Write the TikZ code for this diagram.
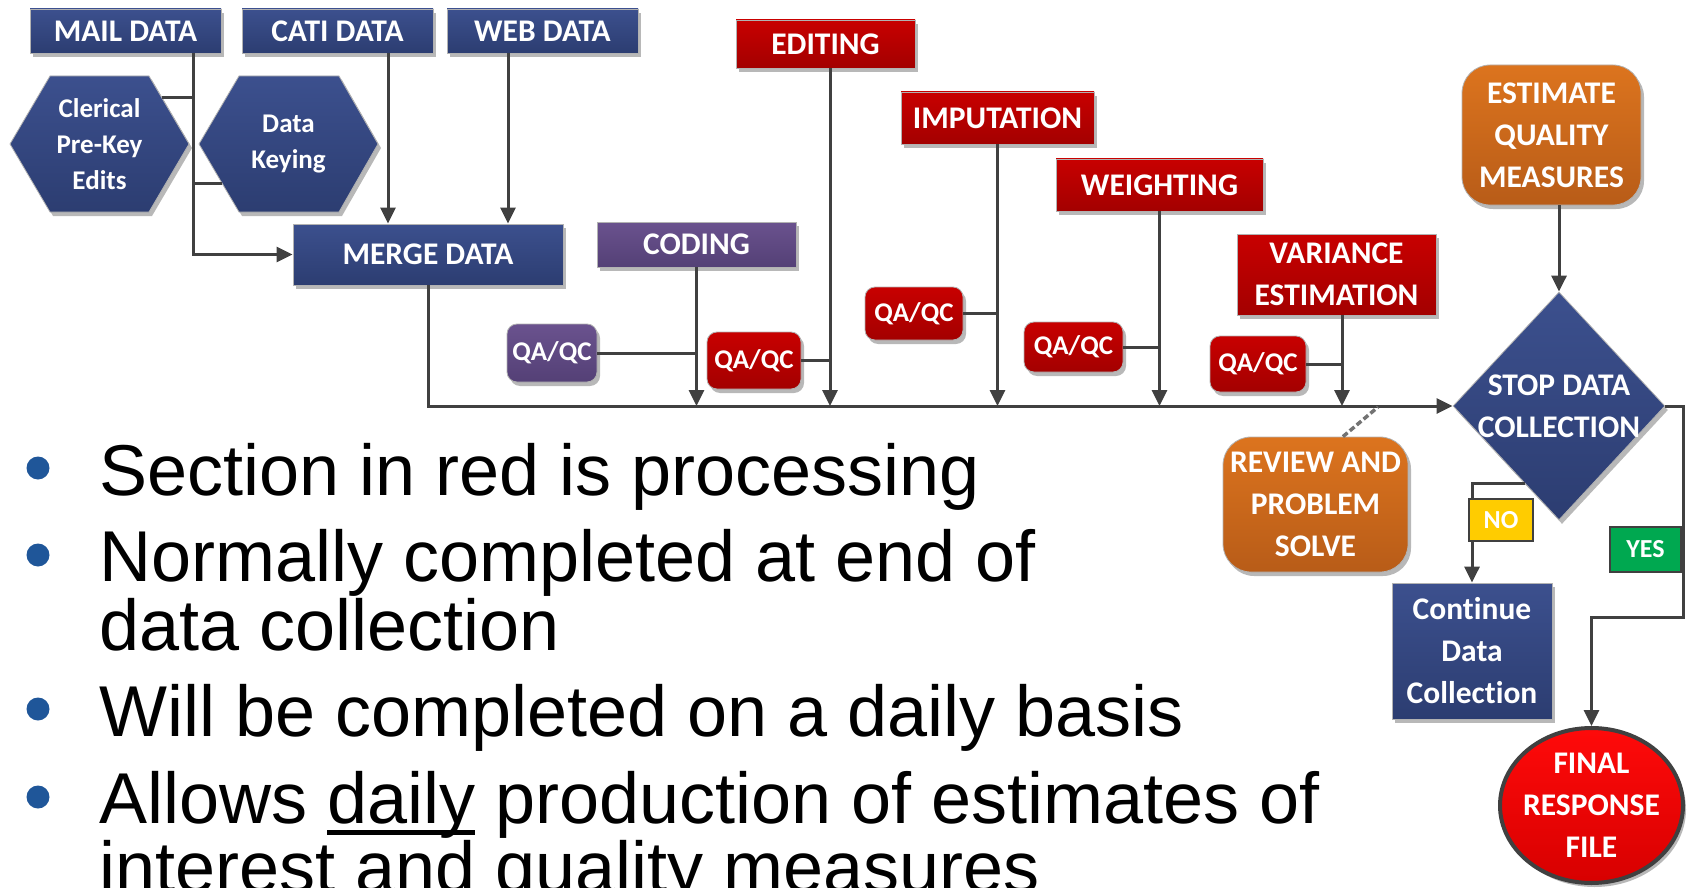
\documentclass[tikz,border=0pt]{standalone}
\usepackage{fontspec}
\setmainfont{Carlito}[Ligatures=NoCommon]
\newfontfamily\bulletfont{Liberation Sans}
\usetikzlibrary{arrows.meta,shapes.geometric,shadows}

\definecolor{navyT}{RGB}{60,80,142}
\definecolor{navyB}{RGB}{44,61,113}
\definecolor{redT}{RGB}{200,0,0}
\definecolor{redB}{RGB}{163,0,0}
\definecolor{purT}{RGB}{106,82,142}
\definecolor{purB}{RGB}{84,64,118}
\definecolor{orT}{RGB}{220,116,30}
\definecolor{orB}{RGB}{184,92,24}
\definecolor{finT}{RGB}{255,10,10}
\definecolor{finB}{RGB}{215,0,0}
\definecolor{wire}{RGB}{64,64,64}
\definecolor{bulletblue}{RGB}{31,86,153}
\definecolor{noY}{RGB}{255,204,0}
\definecolor{yesG}{RGB}{0,168,80}

\newcommand\boxfont{\fontsize{31.5}{42}\selectfont\bfseries}
\newcommand\hexfont{\fontsize{27}{36}\selectfont\bfseries}
\newcommand\qafont{\fontsize{27}{32}\selectfont\bfseries}
\newcommand\answerfont{\fontsize{26}{30}\selectfont\bfseries}
\newcommand\listfont{\bulletfont\fontsize{72}{69}\selectfont}
\newcommand\underrule[1]{\setbox0\hbox{#1}\rlap{\rule[-11.5pt]{\wd0}{5pt}}#1}

\tikzset{
  wire/.style={draw=wire, line width=3pt},
  arr/.style={wire, -{Triangle[length=16pt,width=15pt]}},
  dashlink/.style={draw=black!55, line width=3.5pt, dash pattern=on 6pt off 3pt},
  boxshadow/.style={drop shadow={shadow xshift=3pt,shadow yshift=-4pt,opacity=0.28,fill=black}},
  boxtext/.style={text=white, font=\boxfont, align=center},
  box/.style={rectangle, inner sep=0pt, boxtext, draw=black!30, line width=0.8pt, boxshadow},
  wh/.style 2 args={minimum width=#1pt, minimum height=#2pt},
  navyfill/.style={top color=navyT, bottom color=navyB},
  redfill/.style={top color=redT, bottom color=redB},
  purplefill/.style={top color=purT, bottom color=purB},
  orangefill/.style={top color=orT, bottom color=orB},
  qa/.style={box, rounded corners=10pt, font=\qafont},
  hexlabel/.style={inner sep=0pt, text=white, font=\hexfont, align=center},
  answer/.style={rectangle, inner sep=0pt, text=white, font=\answerfont, draw=wire, line width=1.5pt},
  listline/.style={anchor=base west, inner sep=0pt, font=\listfont},
  bulletdot/.style={circle, fill=bulletblue, minimum size=23pt, inner sep=0pt},
}

\begin{document}
\begin{tikzpicture}[x=1pt,y=-1pt]
\useasboundingbox (0,0) rectangle (1687,888);
\clip (0,0) rectangle (1687,888);

% ---- data sources ----
\node[box,navyfill,wh={191}{44}] (mail) at (125.5,31) {MAIL DATA};
\node[box,navyfill,wh={191}{44}] (cati) at (337.5,31) {CATI DATA};
\node[box,navyfill,wh={191}{44}] (web)  at (542.5,31) {WEB DATA};

\path[navyfill, draw=black!30, line width=0.8pt, boxshadow]
  (10,144) -- (50,76) -- (149,76) -- (189,144) -- (149,212) -- (50,212) -- cycle;
\node[hexlabel] (cler) at (99.5,144) {Clerical\\Pre-Key\\Edits};
\path[navyfill, draw=black!30, line width=0.8pt, boxshadow]
  (199,144) -- (239,76) -- (339,76) -- (378,144) -- (339,212) -- (239,212) -- cycle;
\node[hexlabel] (key) at (288.5,144) {Data\\Keying};

\node[box,navyfill,wh={270}{61}] (merge) at (428,254.5) {MERGE DATA};

% ---- processing steps ----
\node[box,purplefill,wh={199}{45}] (coding) at (696.5,244.5) {CODING};
\node[qa,purplefill,wh={90}{58}] (qa1) at (552,353) {QA/QC};
\node[box,redfill,wh={179}{48}] (edit) at (825.5,44) {EDITING};
\node[qa,redfill,wh={94}{57}] (qa2) at (754,360.5) {QA/QC};
\node[box,redfill,wh={193}{52}] (imput) at (997.5,118) {IMPUTATION};
\node[qa,redfill,wh={98}{53}] (qa3) at (914,313.5) {QA/QC};
\node[box,redfill,wh={207}{52}] (weight) at (1159.5,185) {WEIGHTING};
\node[qa,redfill,wh={99}{50}] (qa4) at (1073.5,347) {QA/QC};
\node[box,redfill,wh={199}{81}] (var) at (1336.5,274.5) {VARIANCE\\ESTIMATION};
\node[qa,redfill,wh={96}{56}] (qa5) at (1258,364) {QA/QC};

% ---- decision part ----
\node[box,orangefill,rounded corners=28pt,wh={179}{140}] (eqm) at (1551.5,135) {ESTIMATE\\QUALITY\\MEASURES};
\node[diamond,navyfill,draw=black!30,line width=0.8pt,boxshadow,inner sep=0pt,wh={212}{228},
      label={[boxtext]center:{STOP DATA\\COLLECTION}}] (stop) at (1559,406) {};
\node[box,orangefill,rounded corners=28pt,wh={185}{135}] (review) at (1315.5,504.5) {REVIEW AND\\PROBLEM\\SOLVE};
\node[box,navyfill,wh={160}{136}] (cont) at (1472,651) {Continue\\Data\\Collection};
\node[ellipse,top color=finT,bottom color=finB,draw=wire,line width=4pt,boxshadow,inner sep=0pt,wh={183}{155},
      label={[boxtext]center:{FINAL\\RESPONSE\\FILE}}] (final) at (1591.5,805.5) {};

% ---- connectors ----
\coordinate (xmail) at (193,0);
\coordinate (xcati) at (388,0);
\coordinate (xweb) at (508,0);
\coordinate (xedit) at (830,0);
\coordinate (xvar) at (1342,0);
\coordinate (bus) at (0,406);
\coordinate (clerE) at (162,98);
\coordinate (keyW) at (222,183);
\coordinate (dashA) at (1378,407);
\coordinate (yesbend) at (1683,617);

\draw[arr] (mail.south -| xmail) |- (merge.west);
\draw[wire] (clerE) -- (clerE -| xmail);
\draw[wire] (keyW -| xmail) -- (keyW);
\draw[arr] (cati.south -| xcati) -- (merge.north -| xcati);
\draw[arr] (web.south -| xweb) -- (merge.north -| xweb);

\draw[arr] (merge.south) |- (stop.west);
\draw[arr] (coding.south) -- (coding.south |- bus);
\draw[wire] (qa1.east) -- (qa1.east -| coding.south);
\draw[arr] (edit.south -| xedit) -- (bus -| xedit);
\draw[wire] (qa2.east) -- (qa2.east -| xedit);
\draw[arr] (imput.south) -- (imput.south |- bus);
\draw[wire] (qa3.east) -- (qa3.east -| imput.south);
\draw[arr] (weight.south) -- (weight.south |- bus);
\draw[wire] (qa4.east) -- (qa4.east -| weight.south);
\draw[arr] (var.south -| xvar) -- (bus -| xvar);
\draw[wire] (qa5.east) -- (qa5.east -| xvar);

\draw[arr] (eqm.south -| stop.north) -- (stop.north);
\draw[dashlink] (review.68) -- (dashA);
\draw[arr] (stop.246) -| (cont.north);
\draw[arr] (stop.east) -| (yesbend) -| (final.north);

\node[answer,fill=noY,wh={64}{42}] (no) at (1501,520) {NO};
\node[answer,fill=yesG,wh={71}{45}] (yes) at (1645.5,549.5) {YES};

% ---- bullet list ----
\node[bulletdot] (d1) at (38,468) {};
\node[listline] (t1) at (99,495) {Section in red is processing};
\node[bulletdot] (d2) at (38,555) {};
\node[listline] (t2) at (99,581) {Normally completed at end of};
\node[listline] (t2b) at (99,650) {data collection};
\node[bulletdot] (d3) at (38,709) {};
\node[listline] (t3) at (99,736) {Will be completed on a daily basis};
\node[bulletdot] (d4) at (38,797) {};
\node[listline] (t4) at (99,823) {Allows \underrule{daily} production of estimates of};
\node[listline] (t4b) at (99,892) {interest and quality measures};
\end{tikzpicture}
\end{document}
